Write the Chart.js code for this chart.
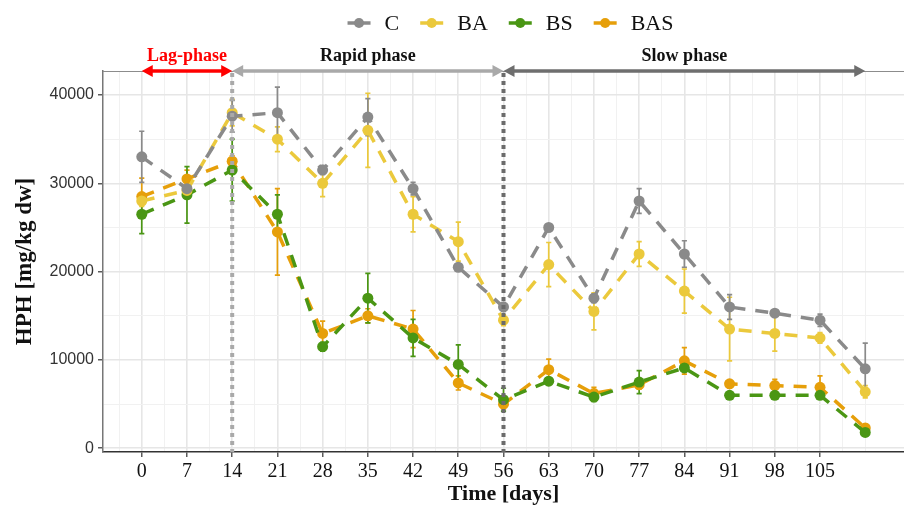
<!DOCTYPE html>
<html><head><meta charset="utf-8">
<script src="https://cdn.jsdelivr.net/npm/chart.js@4.4.1/dist/chart.umd.min.js"></script>
<style>html,body{margin:0;padding:0;background:#fff;}</style>
</head><body>
<canvas id="c" width="904" height="508"></canvas>
<script>
// ---- data ----
const days = [0,7,14,21,28,35,42,49,56,63,70,77,84,91,98,105,112];
const seriesNames = ['C','BA','BS','BAS'];
const valuesC   = [33000,29400,37600,38000,31500,37500,29400,20500,16000,25000,17000,28000,22000,16000,15300,14500,9000];
const errC      = [2900,1000,1800,2900,500,2100,700,400,500,400,500,1400,1500,1400,300,700,2900];
const valuesBA  = [28000,29200,38000,35000,30000,36000,26500,23400,14500,20800,15500,22000,17800,13500,13000,12500,6400];
const errBA     = [600,800,1500,1400,1500,4200,2000,2200,600,2500,2100,1400,2500,3600,2000,600,700];
const valuesBS  = [26500,28700,31500,26500,11500,17000,12500,9500,5500,7600,5800,7500,9100,6000,6000,6000,1800];
const errBS     = [2200,3200,3500,2200,500,2800,2100,2200,1300,400,500,1300,400,300,300,300,300];
const valuesBAS = [28500,30500,32500,24500,13000,15000,13500,7400,5000,8900,6200,7200,9900,7300,7100,6900,2300];
const errBAS    = [2100,1000,600,4900,1400,800,2100,800,500,1200,700,500,1500,400,700,1300,400];
const xTickDays = [0,7,14,21,28,35,42,49,56,63,70,77,84,91,98,105];
const xMinorDays = [-3.5,3.5,10.5,17.5,24.5,31.5,38.5,45.5,52.5,59.5,66.5,73.5,80.5,87.5,94.5,101.5,108.5,112];
const yTickValues = [0,10000,20000,30000,40000];
const yMinorValues = [5000,15000,25000,35000];
const phaseNames = ['Lag-phase','Rapid phase','Slow phase'];
const phaseStart = [0,14,56];
const phaseEnd   = [14,56,112];
const dividerDays = [14,56];

// ---- styles ----
const colors = ['#8a8a8a','#ebc93c','#4a9614','#e69f0a'];
const phaseColors = ['#ff0000','#a9a9a9','#6e6e6e'];
const dividerColors = ['#a9a9a9','#6b6b6b'];
const SERIF = "'Liberation Serif','Times New Roman',serif";
const SANS = "'Liberation Sans',Arial,sans-serif";

const allValues = [valuesC, valuesBA, valuesBS, valuesBAS];
const allErr = [errC, errBA, errBS, errBAS];

const datasets = seriesNames.map((n,i)=>({
  label: n,
  data: days.map((d,j)=>({x:d, y:allValues[i][j]})),
  errors: allErr[i],
  borderColor: colors[i],
  backgroundColor: colors[i],
  borderWidth: 3.5,
  borderDash: [13,10],
  pointRadius: 5.5,
  pointBorderWidth: 0,
  pointBackgroundColor: colors[i],
  tension: 0,
  fill: false
}));

const majorX = new Set(xTickDays);
const majorY = new Set(yTickValues);

const errorBarPlugin = {
  id: 'errorBars',
  beforeDatasetsDraw(chart){
    const ctx = chart.ctx, xs = chart.scales.x, ys = chart.scales.y;
    ctx.save();
    for (let i = chart.data.datasets.length-1; i >= 0; i--){
      const ds = chart.data.datasets[i];
      ctx.strokeStyle = ds.borderColor; ctx.lineWidth = 1.7; ctx.setLineDash([]);
      ds.data.forEach((p,j)=>{
        const e = ds.errors[j];
        const x = xs.getPixelForValue(p.x);
        const y1 = ys.getPixelForValue(p.y - e), y2 = ys.getPixelForValue(p.y + e);
        const cw = xs.getPixelForValue(p.x + 0.4) - x;
        ctx.beginPath();
        ctx.moveTo(x, y1); ctx.lineTo(x, y2);
        ctx.moveTo(x-cw, y1); ctx.lineTo(x+cw, y1);
        ctx.moveTo(x-cw, y2); ctx.lineTo(x+cw, y2);
        ctx.stroke();
      });
    }
    ctx.restore();
  }
};

function drawArrow(ctx, x1, x2, y, color){
  const hl = 11, hw = 6;
  ctx.strokeStyle = color; ctx.fillStyle = color; ctx.lineWidth = 3.5; ctx.setLineDash([]);
  ctx.beginPath(); ctx.moveTo(x1+hl-1, y); ctx.lineTo(x2-hl+1, y); ctx.stroke();
  ctx.beginPath(); ctx.moveTo(x1, y); ctx.lineTo(x1+hl, y-hw); ctx.lineTo(x1+hl, y+hw); ctx.closePath(); ctx.fill();
  ctx.beginPath(); ctx.moveTo(x2, y); ctx.lineTo(x2-hl, y-hw); ctx.lineTo(x2-hl, y+hw); ctx.closePath(); ctx.fill();
}

const decorPlugin = {
  id: 'decor',
  afterDatasetsDraw(chart){
    const ctx = chart.ctx, xs = chart.scales.x, a = chart.chartArea;
    ctx.save();
    dividerDays.forEach((d,i)=>{
      const x = xs.getPixelForValue(d);
      ctx.strokeStyle = dividerColors[i]; ctx.lineWidth = 4; ctx.setLineDash([4,4]);
      ctx.beginPath(); ctx.moveTo(x, a.top+2); ctx.lineTo(x, a.bottom); ctx.stroke();
    });
    ctx.restore();
  },
  afterDraw(chart){
    const ctx = chart.ctx, xs = chart.scales.x, a = chart.chartArea;
    ctx.save();
    // panel top border
    ctx.strokeStyle = '#8c8c8c'; ctx.lineWidth = 1.2; ctx.setLineDash([]);
    ctx.beginPath(); ctx.moveTo(a.left, a.top+0.5); ctx.lineTo(a.right, a.top+0.5); ctx.stroke();
    // phase arrows + labels
    phaseNames.forEach((name,i)=>{
      const x1 = xs.getPixelForValue(phaseStart[i]), x2 = xs.getPixelForValue(phaseEnd[i]);
      drawArrow(ctx, x1, x2, a.top, phaseColors[i]);
      ctx.fillStyle = i===0 ? '#ff0000' : '#111';
      ctx.font = "bold 18px " + SERIF;
      ctx.textAlign = 'center'; ctx.textBaseline = 'middle';
      ctx.fillText(name, (x1+x2)/2, 56);
    });
    // legend
    ctx.font = "22px " + SERIF;
    const keyW = 23, gap = 14, sp = 21;
    const widths = seriesNames.map(n=>ctx.measureText(n).width);
    const total = seriesNames.length*(keyW+gap) + widths.reduce((s,w)=>s+w,0) + sp*(seriesNames.length-1);
    let x = 510.5 - total/2;
    const ly = 23;
    seriesNames.forEach((n,i)=>{
      ctx.strokeStyle = colors[i]; ctx.fillStyle = colors[i]; ctx.lineWidth = 3.5;
      ctx.beginPath(); ctx.moveTo(x, ly); ctx.lineTo(x+keyW, ly); ctx.stroke();
      ctx.beginPath(); ctx.arc(x+keyW/2, ly, 5, 0, Math.PI*2); ctx.fill();
      ctx.fillStyle = '#111'; ctx.textAlign = 'left'; ctx.textBaseline = 'middle';
      ctx.fillText(n, x+keyW+gap, ly+1);
      x += keyW + gap + widths[i] + sp;
    });
    ctx.restore();
  }
};

new Chart(document.getElementById('c'), {
  type: 'line',
  data: { datasets },
  options: {
    responsive: false,
    animation: false,
    devicePixelRatio: 1,
    layout: { autoPadding: false, padding: { top: 71, left: 0, right: 0, bottom: 0 } },
    plugins: { legend: { display: false }, tooltip: { enabled: false } },
    scales: {
      x: {
        type: 'linear', min: -6, max: 118,
        afterBuildTicks(s){ s.ticks = xTickDays.concat(xMinorDays).sort((p,q)=>p-q).map(v=>({value:v})); },
        afterFit(s){ s.height = 56; s.paddingLeft = 0; s.paddingRight = 0; },
        ticks: {
          autoSkip: false, maxRotation: 0, padding: 3, color: '#111',
          font: { family: SERIF, size: 20 },
          callback: v => majorX.has(v) ? String(v) : ''
        },
        grid: {
          color: c => majorX.has(c.tick.value) ? '#e6e6e6' : '#f1f1f1',
          lineWidth: c => majorX.has(c.tick.value) ? 1.6 : 1,
          tickColor: c => majorX.has(c.tick.value) ? '#333' : 'rgba(0,0,0,0)',
          tickLength: 5, tickWidth: 1.2
        },
        border: { display: true, color: '#333', width: 1.5 },
        title: { display: true, text: 'Time [days]', color: '#111',
          font: { family: SERIF, size: 22, weight: 'bold' }, padding: { top: 0, bottom: 0 } }
      },
      y: {
        type: 'linear', min: -420, max: 42720,
        afterBuildTicks(s){ s.ticks = yTickValues.concat(yMinorValues).sort((p,q)=>p-q).map(v=>({value:v})); },
        afterFit(s){ s.width = 103; s.paddingTop = 0; s.paddingBottom = 0; },
        ticks: {
          autoSkip: false, padding: 4, color: '#333',
          font: { family: SANS, size: 16 },
          callback: v => majorY.has(v) ? String(v) : ''
        },
        grid: {
          color: c => majorY.has(c.tick.value) ? '#e6e6e6' : '#f1f1f1',
          lineWidth: c => majorY.has(c.tick.value) ? 1.6 : 1,
          tickColor: c => majorY.has(c.tick.value) ? '#333' : 'rgba(0,0,0,0)',
          tickLength: 5, tickWidth: 1.2
        },
        border: { display: true, color: '#777', width: 1.5 },
        title: { display: true, text: 'HPH [mg/kg dw]', color: '#111',
          font: { family: SERIF, size: 23, weight: 'bold' }, padding: { top: 11, bottom: 0 } }
      }
    }
  },
  plugins: [errorBarPlugin, decorPlugin]
});
</script>
</body></html>
